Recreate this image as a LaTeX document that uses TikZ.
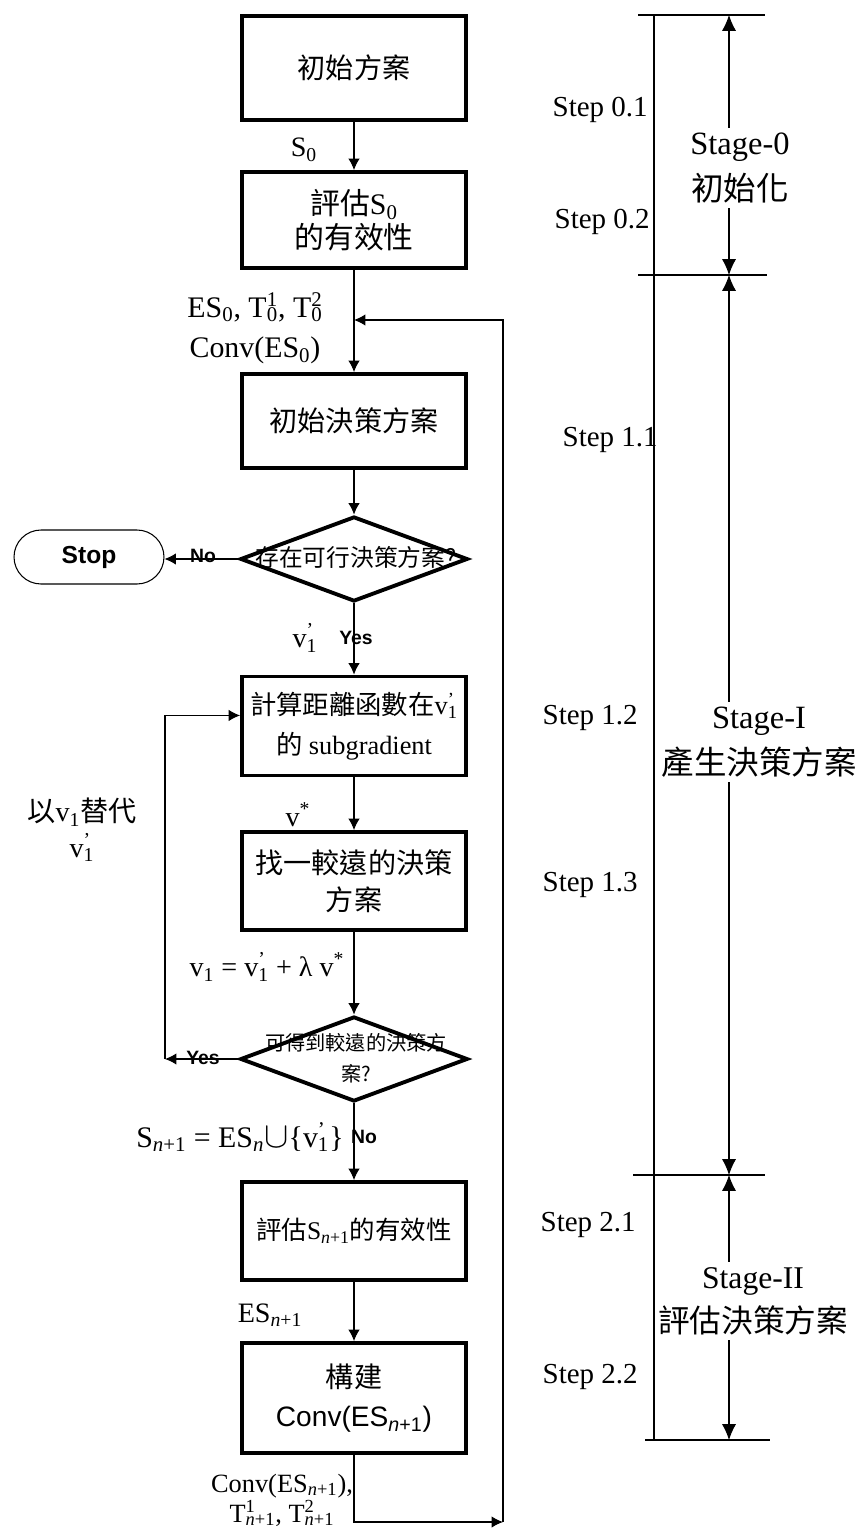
\documentclass[tikz,border=0pt]{standalone}
\usepackage{fontspec}
\setmainfont{Liberation Serif}
\setsansfont{Liberation Sans}
\newfontfamily\cjk{Noto Sans CJK TC}
\usetikzlibrary{shapes.geometric,arrows.meta}
\newcommand{\supsub}[2]{\rlap{\textsuperscript{#1}}\textsubscript{#2}}
\begin{document}
\begin{tikzpicture}[x=0.02cm,y=-0.02cm,>={Latex[length=6.5pt,width=6.5pt]},
  box/.style={draw,line width=2.2pt,minimum width=4.48cm,inner sep=0pt,align=center,font=\fontsize{16}{21}\selectfont},
  decision/.style={diamond,draw,line width=2.2pt,minimum width=4.55cm,minimum height=1.7cm,inner sep=0pt},
  lab/.style={inner sep=0pt,align=center,font=\fontsize{16}{22.5}\selectfont},
  yn/.style={inner sep=0pt,font=\sffamily\bfseries\fontsize{11}{13}\selectfont},
  link/.style={->,line width=0.6pt},
  dim/.style={{Latex[length=9pt,width=8pt]}-{Latex[length=9pt,width=8pt]},line width=0.6pt},
  steplab/.style={anchor=east,inner sep=0pt,font=\fontsize{16.5}{19}\selectfont},
  stagelab/.style={fill=white,inner xsep=1pt,inner ysep=3pt,align=center,font=\fontsize{18.5}{26}\selectfont}]
\useasboundingbox (0,0) rectangle (857,1530);

% main column
\node[box,minimum height=2.08cm] (b1) at (354,68) {{\cjk 初始方案}};
\node[box,minimum height=1.92cm,font=\fontsize{17}{19}\selectfont] (b2) at (354,220) {{\cjk 評估}S\textsubscript{0}\\{\cjk 的有效性}};
\node[box,minimum height=1.88cm] (b3) at (354,421) {{\cjk 初始決策方案}};
\node[decision] (d1) at (354,559) {};
\node[inner sep=0pt,font=\fontsize{13.5}{15}\selectfont] (d1t) at (356,557) {{\cjk 存在可行決策方案?}};
\node[draw,line width=0.6pt,rounded corners=0.54cm,minimum width=3cm,minimum height=1.08cm,font=\sffamily\bfseries\fontsize{14}{16}\selectfont] (stop) at (89,557) {Stop};
\node[box,minimum height=1.98cm,font=\fontsize{15}{22.5}\selectfont] (b4) at (354,726) {{\cjk 計算距離函數在}v\supsub{'}{1}\\{\cjk 的} subgradient};
\node[box,minimum height=1.96cm] (b5) at (354,881) {{\cjk 找一較遠的決策}\\{\cjk 方案}};
\node[decision] (d2) at (354,1059) {};
\node[inner sep=0pt,align=center,font=\fontsize{11.5}{17.5}\selectfont] (d2t) at (356,1058) {{\cjk 可得到較遠的決策方}\\{\cjk 案?}};
\node[box,minimum height=1.96cm,font=\fontsize{14.5}{17}\selectfont] (b6) at (354,1231) {{\cjk 評估}S\textsubscript{\textit{n}+1}{\cjk 的有效性}};
\node[box,minimum height=2.2cm,font=\fontsize{16}{22.5}\selectfont] (b7) at (354,1398) {{\cjk 構建}\\{\sffamily Conv(ES\textsubscript{\textit{n}+1})}};

% loop corners
\coordinate (yl) at (165,1059);
\coordinate (fbr) at (503,1522);
\coordinate (fbin) at (354,320);

\draw[link] (b1) -- (b2);
\draw[link] (b2) -- (b3);
\draw[link] (b3) -- (d1);
\draw[link] (d1.west) -- (d1.west -| stop.east);
\draw[link] (d1) -- (b4);
\draw[link] (b4) -- (b5);
\draw[link] (b5) -- (d2);
\draw[link] (d2.west) -- (yl);
\draw[link] (yl) |- ([yshift=6pt]b4.west);
\draw[link] (d2) -- (b6);
\draw[link] (b6) -- (b7);
\draw[link] (b7) |- (fbr);
\draw[link] (fbr) |- (fbin);

% labels
\node[lab] (s0) at (304,150) {S\textsubscript{0}};
\node[lab,font=\fontsize{17}{23}\selectfont] (es0) at (255,328) {ES\textsubscript{0}, T\supsub{1}{0}, T\supsub{2}{0}\\Conv(ES\textsubscript{0})};
\node[yn] (no1) at (203,556) {No};
\node[lab] (v1a) at (305,638) {v\supsub{'}{1}};
\node[yn] (yes1) at (356,638) {Yes};
\node[lab,font=\fontsize{16}{20}\selectfont] (loopt) at (82,830) {{\cjk 以}v\textsubscript{1}{\cjk 替代}\\v\supsub{'}{1}};
\node[lab] (vs) at (298,815) {v\textsuperscript{*}};
\node[lab] (v1eq) at (267,967) {v\textsubscript{1} = v\supsub{'}{1} + λ v\textsuperscript{*}};
\node[yn] (yes2) at (203,1058) {Yes};
\node[lab,anchor=east,font=\fontsize{17}{20}\selectfont] (sn1) at (344,1137) {S\textsubscript{\textit{n}+1} = ES\textsubscript{\textit{n}}{\fontsize{22}{22}\selectfont$\cup$}\{v\supsub{'}{1}\}};
\node[yn] (no2) at (364,1137) {No};
\node[lab] (esn1) at (270,1315) {ES\textsubscript{\textit{n}+1}};
\node[lab,font=\fontsize{15}{17}\selectfont] (convl) at (282,1500) {Conv(ES\textsubscript{\textit{n}+1}),\\T\supsub{1}{\textit{n}+1}, T\supsub{2}{\textit{n}+1}};

% stages on the right
\coordinate (t0) at (654,15);
\coordinate (t3) at (654,1440);
\draw[line width=0.6pt] (638,15) -- (765,15);
\draw[line width=0.6pt] (638,275) -- (767,275);
\draw[line width=0.6pt] (633,1175) -- (765,1175);
\draw[line width=0.6pt] (645,1440) -- (770,1440);
\draw[dim] (729,15) -- (729,275);
\draw[dim] (729,275) -- (729,1175);
\draw[dim] (729,1175) -- (729,1440);
\node[stagelab] (stage0) at (740,168) {Stage-0\\{\cjk 初始化}};
\node[stagelab] (stage1) at (759,742) {Stage-I\\{\cjk 產生決策方案}};
\node[stagelab,font=\fontsize{18}{25}\selectfont] (stage2) at (753,1301) {Stage-II\\{\cjk 評估決策方案}};
\draw[line width=0.9pt] (t0) -- (t3);

\foreach \y/\t/\x [count=\i] in {110/0.1/648, 222/0.2/650, 440/1.1/658, 718/1.2/638, 885/1.3/638, 1225/2.1/636, 1377/2.2/638}
  \node[steplab] (step\i) at (\x,\y) {Step \t};
\end{tikzpicture}
\end{document}
